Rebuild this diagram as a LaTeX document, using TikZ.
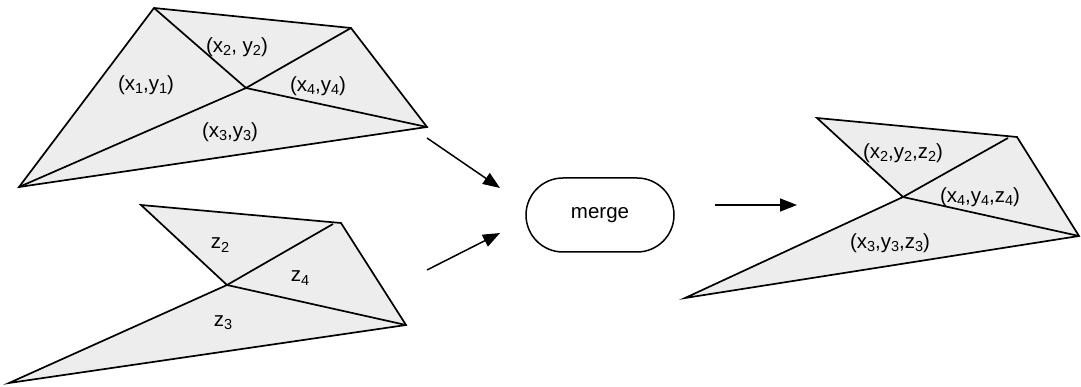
\documentclass[tikz,border=0pt]{standalone}
\usepackage{fontspec}
\setmainfont{Liberation Sans}
\usepackage{tikz}
\usetikzlibrary{arrows.meta,positioning,shapes.misc}

\tikzset{
  mesh/.style={fill=black!7, line width=1.7pt, line join=miter},
  edge/.style={line width=1.7pt},
  flow/.style={line width=1.5pt, -{Triangle[length=17pt,width=13pt]}},
  lbl/.style={font=\fontsize{20.5}{24}\selectfont, inner sep=0pt},
}
\newcommand{\ix}[1]{\raisebox{-0.3ex}{\fontsize{14.5}{16}\selectfont #1}}

\begin{document}
\begin{tikzpicture}[x=1pt, y=-1pt]
  \useasboundingbox (0,0) rectangle (1081,387);
  % Planar mesh (x,y)
  \coordinate (a1) at (154,8);
  \coordinate (a2) at (351,28);
  \coordinate (a3) at (427,127);
  \coordinate (a4) at (19,187);
  \coordinate (ac) at (246,88);
  \draw[mesh] (a1) -- (a2) -- (a3) -- (a4) -- cycle;
  \foreach \v in {a1,a2,a3,a4} \draw[edge] (ac) -- (\v);
  \node[lbl] (p1) at (146,85) {(x\ix{1},y\ix{1})};
  \node[lbl] (p2) at (237,47) {(x\ix{2}, y\ix{2})};
  \node[lbl] (p3) at (230,132) {(x\ix{3},y\ix{3})};
  \node[lbl] (p4) at (318,86) {(x\ix{4},y\ix{4})};
  % Height mesh (z)
  \coordinate (b1) at (141,205);
  \coordinate (b2) at (341,223);
  \coordinate (b2i) at (333,224);
  \coordinate (b3) at (406,325);
  \coordinate (b4) at (9,383);
  \coordinate (bc) at (227,285);
  \draw[mesh] (b1) -- (b2) -- (b3) -- (b4) -- (bc) -- cycle;
  \draw[edge] (bc) -- (b2i);
  \draw[edge] (bc) -- (b3);
  \node[lbl] (q2) at (220,245) {z\ix{2}};
  \node[lbl] (q3) at (223,323) {z\ix{3}};
  \node[lbl] (q4) at (300,278) {z\ix{4}};
  % Merge step
  \node[draw, line width=1.5pt, rounded rectangle, minimum width=148pt,
        minimum height=74pt, lbl] (merge) at (600,215) {merge};
  \coordinate (in1) at (500,188);
  \coordinate (in2) at (500,233);
  \coordinate (out1) at (427,138);
  \coordinate (out2) at (427,270);
  \draw[flow] (out1) -- (in1);
  \draw[flow] (out2) -- (in2);
  \coordinate (r0) at (715,205);
  \coordinate (r1) at (797,205);
  \draw[flow] (r0) -- (r1);
  % Merged mesh (x,y,z)
  \coordinate (c1) at (817,118);
  \coordinate (c2) at (1017,137);
  \coordinate (c2i) at (1008,138);
  \coordinate (c3) at (1079,236);
  \coordinate (c4) at (685,298);
  \coordinate (cc) at (903,197);
  \draw[mesh] (c1) -- (c2) -- (c3) -- (c4) -- (cc) -- cycle;
  \draw[edge] (cc) -- (c2i);
  \draw[edge] (cc) -- (c3);
  \node[lbl] (s2) at (903,153) {(x\ix{2},y\ix{2},z\ix{2})};
  \node[lbl] (s3) at (890,243) {(x\ix{3},y\ix{3},z\ix{3})};
  \node[lbl] (s4) at (980,197) {(x\ix{4},y\ix{4},z\ix{4})};
\end{tikzpicture}
\end{document}
